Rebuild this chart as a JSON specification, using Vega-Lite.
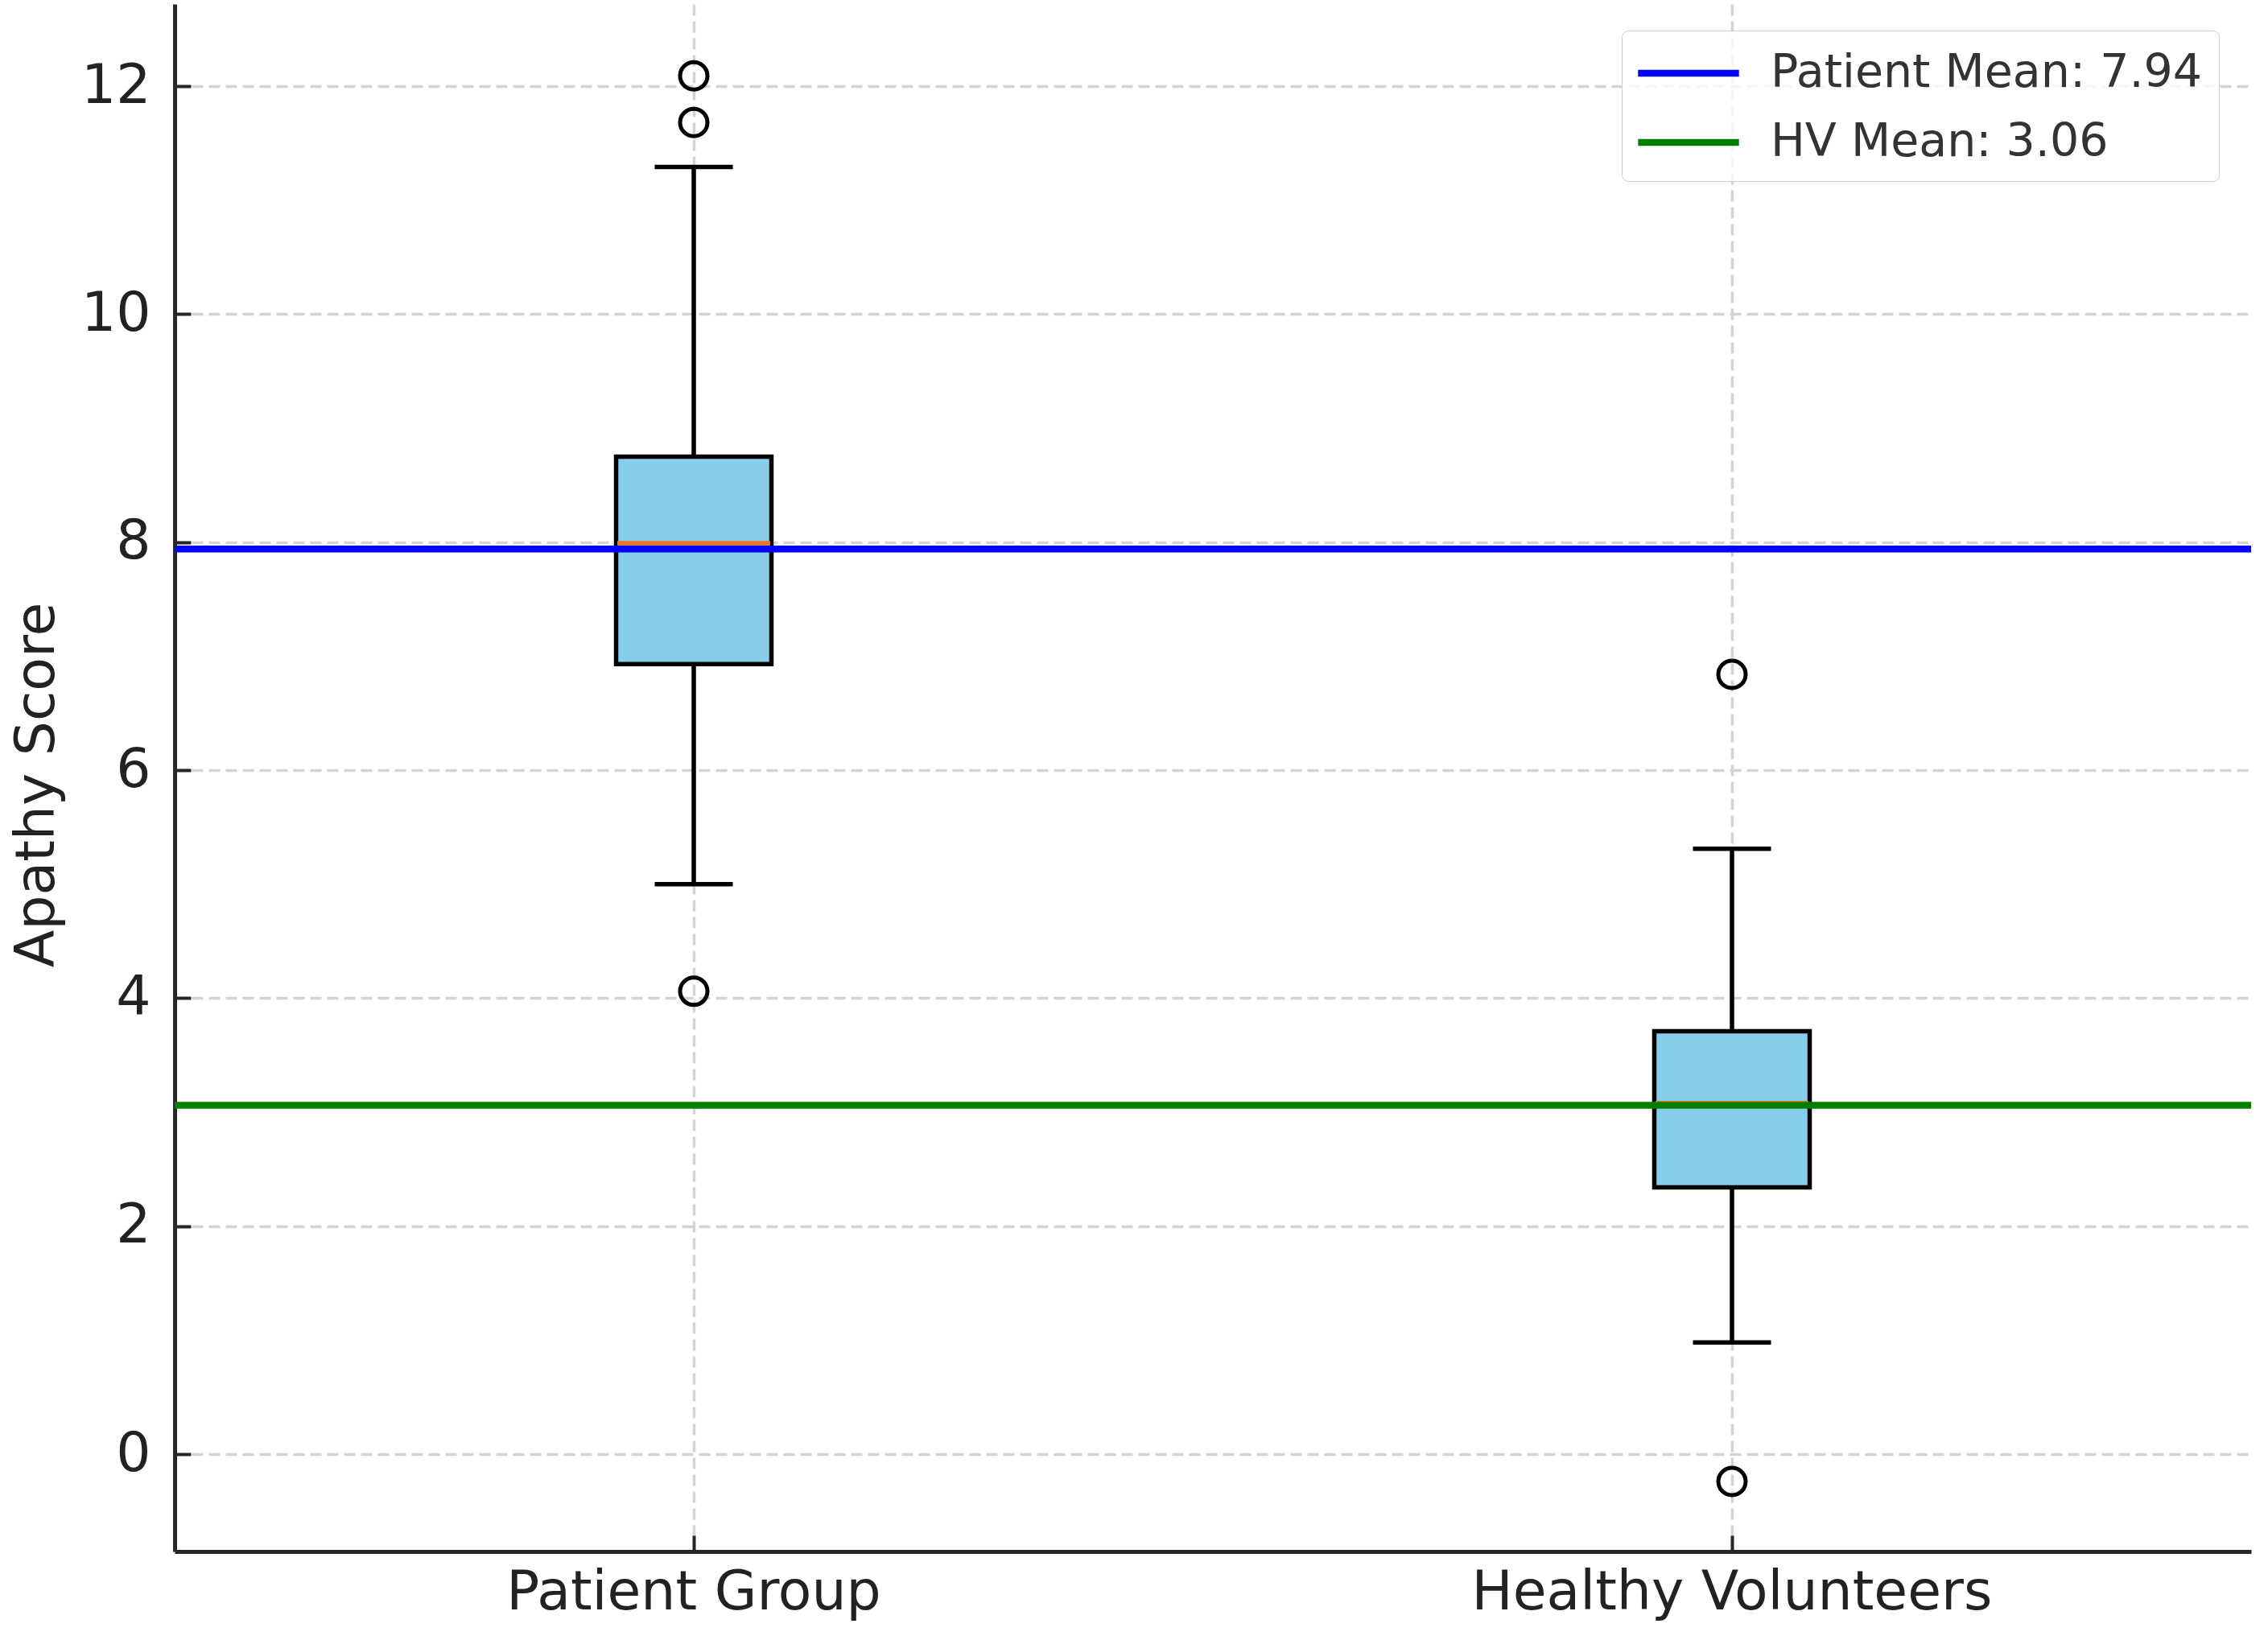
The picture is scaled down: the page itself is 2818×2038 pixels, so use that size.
{
  "$schema": "https://vega.github.io/schema/vega-lite/v6.json",
  "width": 2580,
  "height": 1923,
  "autosize": {"type": "none"},
  "padding": {"left": 217, "top": 5, "right": 21, "bottom": 110},
  "background": "white",
  "config": {
    "view": {"stroke": null},
    "font": "DejaVu Sans",
    "axis": {
      "grid": true,
      "gridDash": [14, 7],
      "gridColor": "#d3d3d3",
      "gridWidth": 3.5,
      "domainColor": "#262626",
      "domainWidth": 5,
      "tickColor": "#262626",
      "tickWidth": 4,
      "tickSize": -20,
      "labelPadding": 50,
      "labelFontSize": 68,
      "labelLimit": 2000,
      "labelColor": "#222222",
      "titleFontSize": 68,
      "titleFontWeight": "normal",
      "titleColor": "#222222"
    }
  },
  "datasets": {
    "boxes": [
      {"group": "Patient Group", "lower": 5.0, "q1": 6.93, "median": 7.99, "q3": 8.75, "upper": 11.29},
      {"group": "Healthy Volunteers", "lower": 0.98, "q1": 2.34, "median": 3.08, "q3": 3.71, "upper": 5.31}
    ],
    "outliers": [
      {"group": "Patient Group", "value": 12.09},
      {"group": "Patient Group", "value": 11.68},
      {"group": "Patient Group", "value": 4.06},
      {"group": "Healthy Volunteers", "value": 6.84},
      {"group": "Healthy Volunteers", "value": -0.24}
    ],
    "means": [
      {"label": "Patient Mean: 7.94", "value": 7.94},
      {"label": "HV Mean: 3.06", "value": 3.06}
    ]
  },
  "layer": [
    {
      "data": {"name": "outliers"},
      "mark": {"type": "point", "shape": "circle", "filled": false, "stroke": "black", "strokeWidth": 5, "size": 1156, "opacity": 1},
      "encoding": {
        "x": {
          "field": "group",
          "type": "nominal",
          "sort": null,
          "title": null,
          "scale": {"domain": ["Patient Group", "Healthy Volunteers"], "paddingInner": 0, "paddingOuter": 0},
          "axis": {"labelAngle": 0, "bandPosition": 0.5, "labelPadding": 37}
        },
        "y": {
          "field": "value",
          "type": "quantitative",
          "title": "Apathy Score",
          "scale": {"domain": [-0.854, 12.72], "nice": false, "zero": false},
          "axis": {"values": [0, 2, 4, 6, 8, 10, 12], "format": "d", "titleX": -151, "titleY": 970, "titleBaseline": "alphabetic", "titleAlign": "center", "titleAngle": 270}
        }
      }
    },
    {
      "data": {"name": "boxes"},
      "mark": {"type": "rule", "color": "black", "strokeWidth": 5.5},
      "encoding": {"x": {"field": "group", "type": "nominal", "sort": null}, "y": {"field": "q3", "type": "quantitative"}, "y2": {"field": "upper"}}
    },
    {
      "data": {"name": "boxes"},
      "mark": {"type": "rule", "color": "black", "strokeWidth": 5.5},
      "encoding": {"x": {"field": "group", "type": "nominal", "sort": null}, "y": {"field": "lower", "type": "quantitative"}, "y2": {"field": "q1"}}
    },
    {
      "data": {"name": "boxes"},
      "mark": {"type": "tick", "color": "black", "thickness": 5.5, "size": 97, "opacity": 1},
      "encoding": {"x": {"field": "group", "type": "nominal", "sort": null}, "y": {"field": "upper", "type": "quantitative"}}
    },
    {
      "data": {"name": "boxes"},
      "mark": {"type": "tick", "color": "black", "thickness": 5.5, "size": 97, "opacity": 1},
      "encoding": {"x": {"field": "group", "type": "nominal", "sort": null}, "y": {"field": "lower", "type": "quantitative"}}
    },
    {
      "data": {"name": "boxes"},
      "mark": {"type": "bar", "fill": "#87CEEB", "stroke": "black", "strokeWidth": 5.5, "width": 193},
      "encoding": {"x": {"field": "group", "type": "nominal", "sort": null}, "y": {"field": "q1", "type": "quantitative"}, "y2": {"field": "q3"}}
    },
    {
      "data": {"name": "boxes"},
      "mark": {"type": "tick", "color": "#ee7325", "thickness": 5.5, "size": 190, "opacity": 1},
      "encoding": {"x": {"field": "group", "type": "nominal", "sort": null}, "y": {"field": "median", "type": "quantitative"}}
    },
    {
      "data": {"name": "means"},
      "mark": {"type": "rule", "strokeWidth": 8.5},
      "encoding": {
        "y": {"field": "value", "type": "quantitative"},
        "color": {
          "field": "label",
          "type": "nominal",
          "sort": null,
          "scale": {"domain": ["Patient Mean: 7.94", "HV Mean: 3.06"], "range": ["#0000ff", "#008000"]},
          "legend": {
            "orient": "none",
            "legendX": 1798,
            "legendY": 33,
            "title": null,
            "symbolType": "M-2.2,0L2.2,0",
            "symbolSize": 3249,
            "symbolStrokeWidth": 8.5,
            "symbolOffset": 30,
            "labelFontSize": 57,
            "labelLimit": 2000,
            "labelColor": "#333333",
            "labelOffset": 69,
            "padding": 20,
            "rowPadding": 25,
            "fillColor": "rgba(255,255,255,0.8)",
            "strokeColor": "#cccccc",
            "cornerRadius": 8
          }
        }
      }
    }
  ]
}
